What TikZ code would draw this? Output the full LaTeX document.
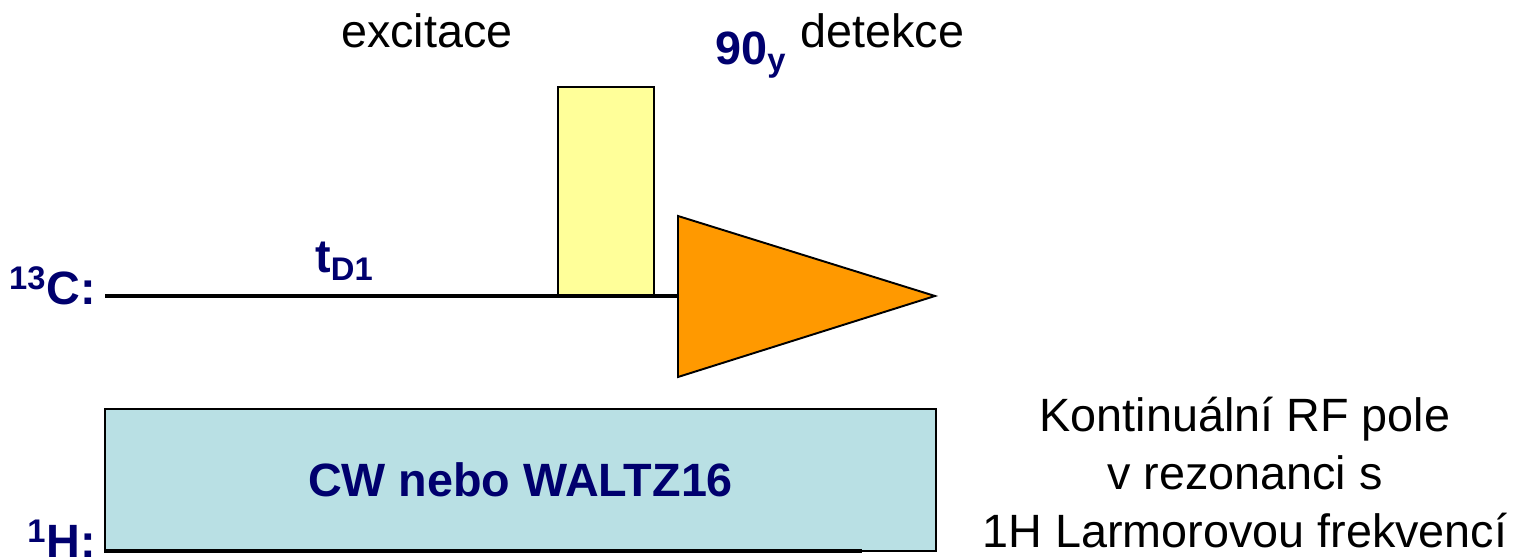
\documentclass[tikz,border=0pt]{standalone}
\usepackage{fontspec}
\setmainfont{Liberation Sans}
\definecolor{navy}{RGB}{0,0,110}
\definecolor{pulseyellow}{RGB}{255,255,153}
\definecolor{detorange}{RGB}{255,153,0}
\definecolor{decblue}{RGB}{185,224,228}
\tikzset{
  big/.style={font=\fontsize{26.6}{33}\selectfont, inner sep=0pt},
  lab/.style={big, text=navy, font=\fontsize{26.6}{33}\selectfont\bfseries},
  shapeline/.style={draw=black, line width=1.1pt},
}
\begin{document}
\begin{tikzpicture}[x=0.02cm, y=-0.02cm]
\useasboundingbox (0,0) rectangle (1519,560);
% 1H decoupling box
\node[shapeline, fill=decblue, minimum width=831*0.02cm, minimum height=142*0.02cm, inner sep=0pt, anchor=north west] (dec) at (104,408) {};
\node[lab] (cw) at (dec.center) {CW nebo WALTZ16};
\coordinate (hstart) at (104,551);
\coordinate (hend) at (862,551);
\draw[line width=1.8pt] (hstart) -- (hend);
% 13C channel
\coordinate (cstart) at (105,296);
\coordinate (trileft) at (678,296);
\draw[line width=1.9pt] (cstart) -- (trileft);
\node[shapeline, fill=pulseyellow, minimum width=96*0.02cm, minimum height=208*0.02cm, inner sep=0pt, anchor=south west] (pulse) at (557,296) {};
\coordinate (tritop) at (678,216);
\coordinate (tribot) at (678,377);
\coordinate (tritip) at (935,296);
\draw[shapeline, fill=detorange, line join=miter] (tritop) -- (tritip) -- (tribot) -- cycle;
% labels
\node[big, anchor=base] (exc) at (427,48) {excitace};
\node[big, anchor=base west] (det) at (800,48) {detekce};
\node[lab, anchor=base west] (p90) at (715,65) {90\textsubscript{y}};
\node[lab, anchor=base west] (td) at (315,273) {t\textsubscript{D1}};
\node[lab, anchor=base east] (clab) at (96,305) {\textsuperscript{13}C:};
\node[lab, anchor=base east] (hlab) at (96,558) {\textsuperscript{1}H:};
\node[big, align=center, anchor=north] (note) at (1245,397) {Kontinuální RF pole\\v rezonanci s\\1H Larmorovou frekvencí};
\end{tikzpicture}
\end{document}
